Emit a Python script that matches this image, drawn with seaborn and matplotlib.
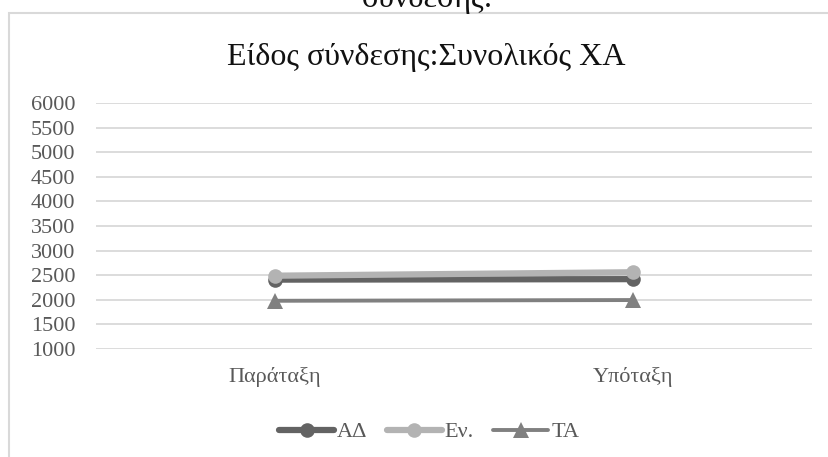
import matplotlib
matplotlib.use("Agg")
import matplotlib.pyplot as plt
from matplotlib.patches import Rectangle
from matplotlib.lines import Line2D
import seaborn as sns
import pandas as pd

categories = ["Παράταξη", "Υπόταξη"]
series_names = ["ΑΔ", "Εν.", "ΤΑ"]
ad_values = [2410, 2420]
en_values = [2490, 2560]
ta_values = [1980, 1995]
y_ticks = [1000, 1500, 2000, 2500, 3000, 3500, 4000, 4500, 5000, 5500, 6000]

title_text = "Είδος σύνδεσης:Συνολικός ΧΑ"
header_text = "σύνδεσης:"

sns.set_theme(style="white")
plt.rcParams["font.family"] = ["Liberation Serif", "DejaVu Serif"]

W, H = 829, 457
fig = plt.figure(figsize=(W / 100, H / 100), dpi=100)
fig.patch.set_facecolor("white")

# chart-area frame (runs off the right and bottom edges)
fig.patches.append(Rectangle((9.5 / W, -0.1), 1.2, 1 - 13.5 / H + 0.1,
                             transform=fig.transFigure, fill=False,
                             edgecolor="#d9d9d9", linewidth=1.5, zorder=0))

ax = fig.add_axes([96 / W, 1 - 349 / H, (812 - 96) / W, (349 - 103) / H])
ax.set_facecolor("none")

styles = {
    "ΑΔ": dict(color="#636363", marker="o", lw=4.5, ms=10.5),
    "Εν.": dict(color="#b3b3b3", marker="o", lw=4.5, ms=10.5),
    "ΤΑ": dict(color="#808080", marker="^", lw=2.8, ms=12),
}
values = {"ΑΔ": ad_values, "Εν.": en_values, "ΤΑ": ta_values}
order = ["ΑΔ", "ΤΑ", "Εν."]
for i, name in enumerate(order):
    df = pd.DataFrame({"cat": categories, "val": values[name]})
    st = styles[name]
    sns.lineplot(data=df, x="cat", y="val", ax=ax, color=st["color"],
                 marker=st["marker"], markersize=st["ms"], linewidth=st["lw"],
                 markeredgewidth=0, markeredgecolor=st["color"],
                 solid_capstyle="round", zorder=3 + i)

ax.set_ylim(1000, 6000)
ax.set_xlim(-0.5, 1.5)
ax.set_yticks(y_ticks)
ax.set_yticklabels([str(v) for v in y_ticks])
ax.yaxis.grid(True, color="#d9d9d9", linewidth=1.3)
ax.xaxis.grid(False)
ax.set_axisbelow(True)
for s in ax.spines.values():
    s.set_visible(False)
ax.tick_params(axis="both", length=0, labelsize=16, colors="#595959")
ax.tick_params(axis="y", pad=15)
ax.tick_params(axis="x", pad=13)
ax.set_xlabel("")
ax.set_ylabel("")

fig.text(426 / W, 1 - 57 / H, title_text, ha="center", va="center",
         fontsize=23, color="#111111")
fig.text(428 / W, 1 - 7 / H, header_text, ha="center", va="baseline",
         fontsize=23, color="#111111")

handles = [Line2D([0], [0], color=styles[n]["color"], lw=styles[n]["lw"],
                  marker=styles[n]["marker"], markersize=styles[n]["ms"],
                  markeredgewidth=0, solid_capstyle="round")
           for n in series_names]
fig.legend(handles, series_names, loc="center", bbox_to_anchor=(429 / W, 1 - 432 / H),
           ncol=3, frameon=False, fontsize=16, labelcolor="#595959",
           handlelength=2.5, handletextpad=0.12, columnspacing=0.85)

fig.savefig("out.png", dpi=100)
